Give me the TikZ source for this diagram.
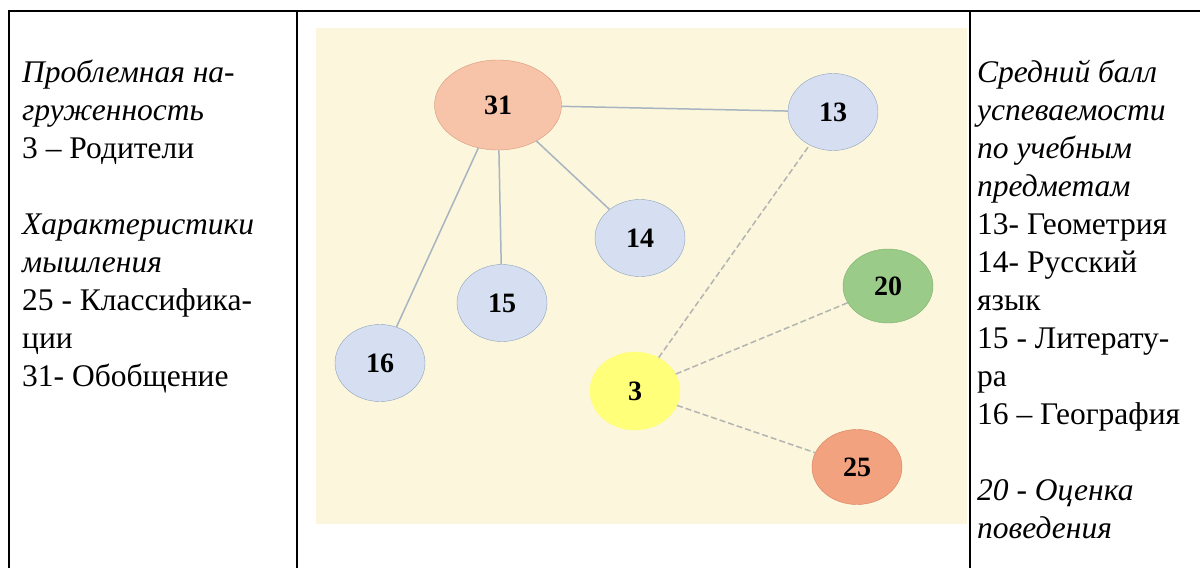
\documentclass[tikz,border=0pt]{standalone}
\usepackage{fontspec}
\setmainfont{Liberation Serif}
\usepackage{tikz}
\usetikzlibrary{shapes.geometric,positioning}
\definecolor{paper}{HTML}{FBF6DC}
\definecolor{subjfill}{HTML}{D5DFF1}
\definecolor{subjline}{HTML}{8FA3BE}
\definecolor{salmonfill}{HTML}{F7C4AA}
\definecolor{salmonline}{HTML}{D9967A}
\definecolor{orangefill}{HTML}{F2A27F}
\definecolor{orangeline}{HTML}{D6805F}
\definecolor{greenfill}{HTML}{9BCB88}
\definecolor{greenline}{HTML}{7DB06C}
\definecolor{yellowfill}{HTML}{FFFF7A}
\definecolor{linkgray}{HTML}{A8B5C0}
\definecolor{dashgray}{HTML}{B4B4B0}
\tikzset{
	vertex/.style={shape=ellipse,draw,inner sep=0pt,minimum width=90pt,minimum height=77pt,font=\fontsize{28}{28}\selectfont\bfseries},
	subj/.style={vertex,fill=subjfill,draw=subjline},
	link/.style={draw=linkgray,line width=1.5pt},
	weak/.style={draw=dashgray,line width=1.5pt,dash pattern=on 6pt off 3pt},
	column/.style={anchor=north west,inner sep=0pt,align=left,font=\fontsize{31.5}{38}\selectfont},
}

\begin{document}
\begin{tikzpicture}[x=1pt,y=-1pt]
		\useasboundingbox (0,0) rectangle (1200,568);
		% table
		\draw[line width=2pt] (9,568) -- (9,11) -- (1200,11);
		\draw[line width=2pt] (297,11) -- (297,568);
		\draw[line width=2pt] (970,11) -- (970,568);
		\fill[paper] (316,28) rectangle (967,524);
		% left and right columns
		\node(legendL) [column] at (22,55.4) {\strut\textit{Проблемная на-}\\\textit{груженность}\\3 – Родители\\[38pt]\textit{Характеристики}\\\textit{мышления}\\25 - Классифика-\\ции\\31- Обобщение};
		\node(legendR) [column] at (977,55.4) {\strut\textit{Средний балл}\\\textit{успеваемости}\\\textit{по учебным}\\\textit{предметам}\\13- Геометрия\\14- Русский\\язык\\15 - Литерату-\\ра\\16 – География\\[38pt]\textit{20 - Оценка}\\\textit{поведения}};
		% graph
		\node(n31) [vertex,fill=salmonfill,draw=salmonline,minimum width=127pt,minimum height=90pt] at (498,105) {31};
		\node(n13) [subj] at (833,112) {13};
		\node(n14) [subj] at (640,238) {14};
		\node(n15) [subj] at (502,303) {15};
		\node(n16) [subj] at (380,363) {16};
		\node(n20) [vertex,fill=greenfill,draw=greenline,minimum height=74pt] at (888,286) {20};
		\node(n3) [vertex,fill=yellowfill,draw=yellowfill,minimum height=78pt] at (635,391) {3};
		\node(n25) [vertex,fill=orangefill,draw=orangeline,minimum height=75pt] at (857,467) {25};
		\path[link]
			(n31) edge (n13)
			(n31) edge (n14)
			(n31) edge (n15)
			(n31) edge (n16);
		\path[weak]
			(n3) edge (n13)
			(n3) edge (n20)
			(n3) edge (n25);
\end{tikzpicture}
\end{document}
